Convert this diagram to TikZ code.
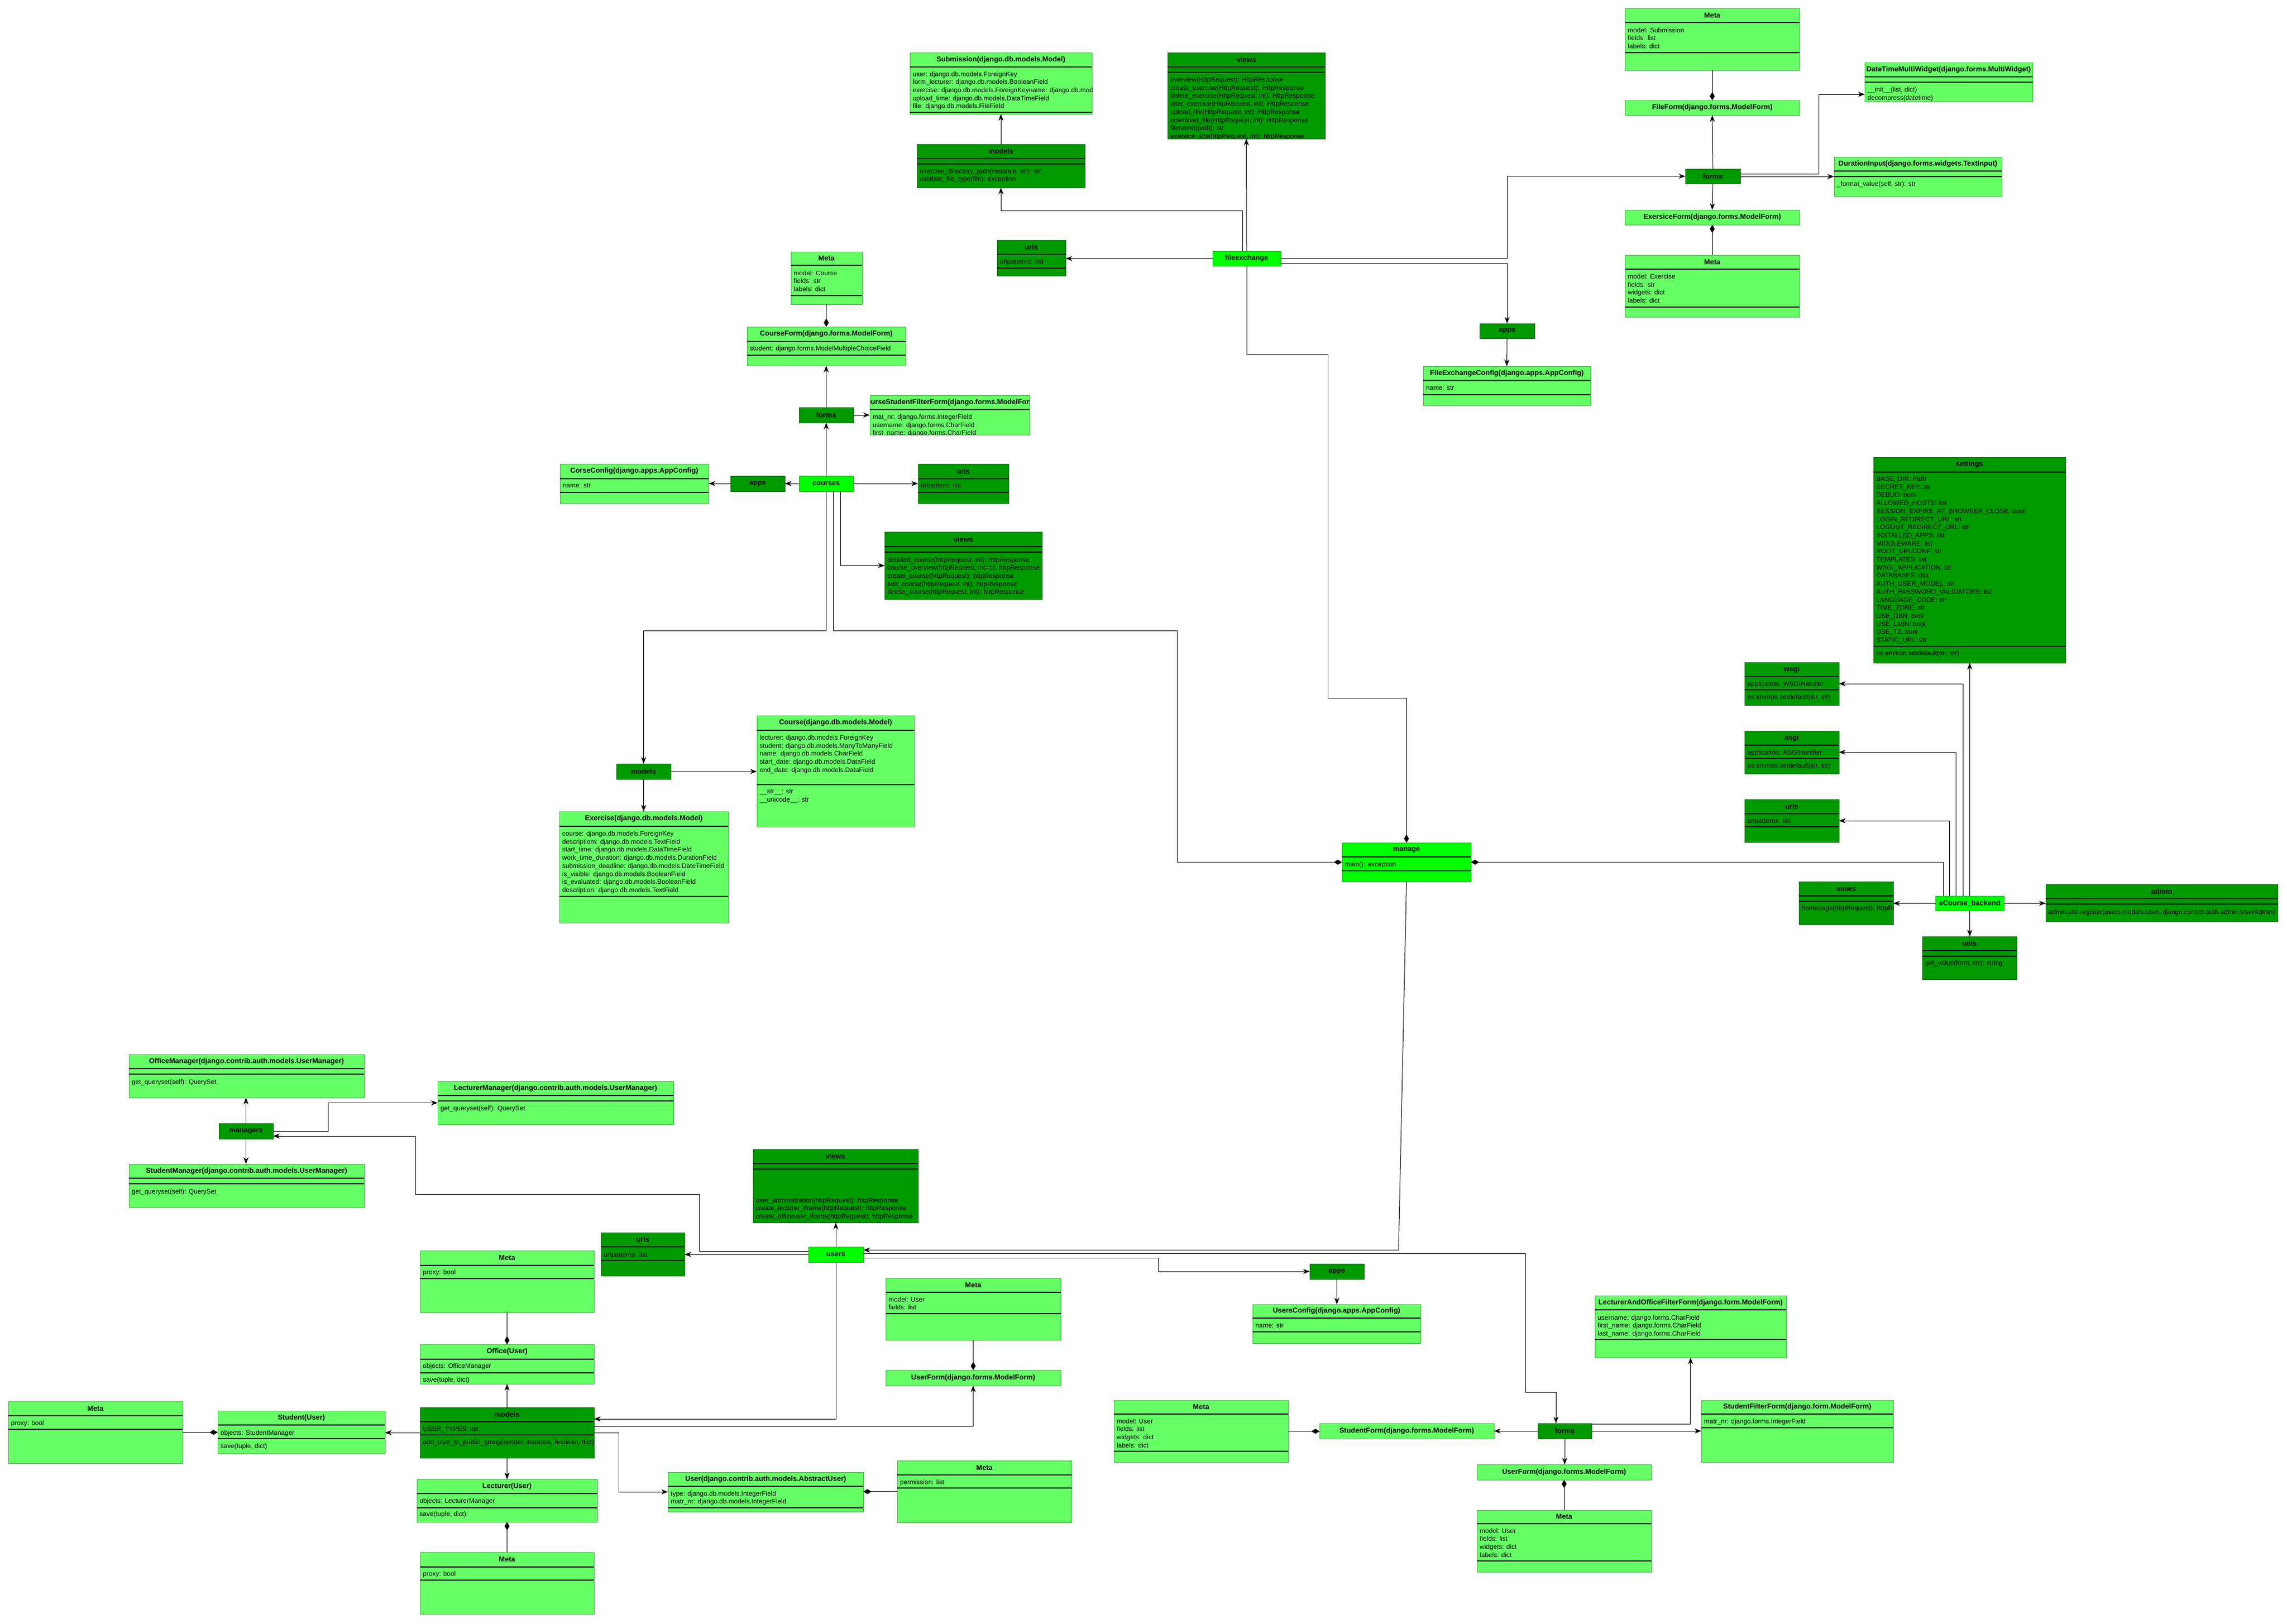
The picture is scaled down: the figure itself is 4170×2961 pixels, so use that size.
\documentclass[tikz,border=0pt]{standalone}
\usepackage{fontspec}
\setmainfont{Liberation Sans}
\usetikzlibrary{arrows.meta,calc}
\definecolor{lg}{HTML}{66FF66}
\definecolor{lgb}{HTML}{44BB44}
\definecolor{dg}{HTML}{009900}
\definecolor{dgb}{HTML}{006600}
\definecolor{bg}{HTML}{00FF00}
\definecolor{bgb}{HTML}{00BB00}
\tikzset{
 light/.style={draw=lgb, fill=lg},
 dark/.style={draw=dgb, fill=dg},
 bright/.style={draw=bgb, fill=bg},
 boxbase/.style={rectangle, inner sep=0pt, outer sep=0pt, line width=1pt, anchor=north west},
 ttl/.style={font=\bfseries\fontsize{13}{15}\selectfont, inner sep=0pt},
 txt/.style={font=\fontsize{12}{14.7}\selectfont, inner sep=0pt, anchor=base west},
 sepline/.style={line width=1.1pt, black},
 con/.style={line width=1pt, black},
 arr/.style={con, -{Stealth[length=12pt,width=9pt,inset=3.5pt]}},
 dia/.style={con, -{Diamond[length=15pt,width=9pt]}},
}
% name, style, x1, y1, x2, y2, header line y, second line y (0 = none), title
\newcommand{\cls}[9]{%
 \node[boxbase,#2,minimum width=#5-#3,minimum height=#6-#4] (#1) at (#3,#4) {};
 \begin{scope}
  \clip (#3,#4) rectangle (#5,#6);
  \node[ttl] at ({(#3+#5)/2},{(#4+#7)/2}) {#9};
 \end{scope}
 \draw[sepline] (#3,#7) -- (#5,#7);
 \ifnum#8>0 \draw[sepline] (#3,#8) -- (#5,#8);\fi
}
% name, style, x1, y1, x2, y2, title
\newcommand{\simple}[7]{%
 \node[boxbase,#2,ttl,minimum width=#5-#3,minimum height=#6-#4] (#1) at (#3,#4) {#7};
}
% x1, x2, clip bottom, first baseline, list
\newcommand{\txtlines}[5]{%
 \begin{scope}
  \clip (#1,#4-20) rectangle (#2,#3);
  \foreach \myline [count=\myi from 0] in {#5} {\node[txt] at (#1+5,#4+14.7*\myi) {\myline};}
 \end{scope}
}
\begin{document}
\begin{tikzpicture}[x=1pt,y=-1pt]
\fill[white] (0,0) rectangle (4170,2961);
\useasboundingbox (0,0) rectangle (4170,2961);

% ================= fileexchange =================
\cls{subm}{light}{1659}{96}{1991}{208}{122}{205}{Submission(django.db.models.Model)}
\txtlines{1659}{1991}{205}{139}{{user: django.db.models.ForeignKey},{form\_lecturer: django.db.models.BooleanField},{exercise: django.db.models.ForeignKeyname: django.db.models.CharField},{upload\_time: django.db.models.DataTimeField},{file: django.db.models.FileField}}
\cls{fxmodels}{dark}{1672}{263}{1978}{342}{289}{299}{models}
\txtlines{1672}{1978}{342}{316}{{exercise\_directory\_path(instance, str): str},{validate\_file\_type(file): exception}}
\cls{fxviews}{dark}{2129}{96}{2416}{253}{122}{132}{views}
\txtlines{2129}{2416}{253}{149.5}{{overview(HttpRequest): HttpResponse},{create\_exercise(HttpRequest): HttpResponse},{delete\_exercise(HttpRequest, int): HttpResponse},{alter\_exercice(HttpRequest, int): HttpResponse},{upload\_file(HttpRequest, int): HttpResponse},{download\_file(HttpRequest, int): HttpResponse},{filename(path): str},{exersice\_site(httpRequest, int): httpResponse}}
\cls{fxurls}{dark}{1818}{438}{1943}{503}{464}{489}{urls}
\txtlines{1818}{1943}{489}{481.5}{{urlpatterns: list}}
\simple{fileexchange}{bright}{2211}{458}{2335}{485}{fileexchange}
\simple{fxforms}{dark}{3073}{308}{3173}{335}{forms}
\cls{meta1}{light}{2963}{15}{3281}{128}{41}{96}{Meta}
\txtlines{2963}{3281}{96}{59}{{model: Submission},{fields: list},{labels: dict}}
\simple{fileform}{light}{2963}{183}{3281}{210}{FileForm(django.forms.ModelForm)}
\cls{dtmw}{light}{3400}{114}{3706}{185}{140}{150}{DateTimeMultiWidget(django.forms.MultiWidget)}
\txtlines{3400}{3706}{185}{167.5}{{\_\_init\_\_(list, dict)},{decompress(datetime)}}
\cls{durinput}{light}{3344}{286}{3650}{358}{312}{322}{DurationInput(django.forms.widgets.TextInput)}
\txtlines{3344}{3650}{358}{339.5}{{\_format\_value(self, str): str}}
\simple{exform}{light}{2963}{383}{3281}{410}{ExersiceForm(django.forms.ModelForm)}
\cls{meta2}{light}{2963}{465}{3281}{578}{491}{560}{Meta}
\txtlines{2963}{3281}{560}{508.5}{{model: Exercise},{fields: str},{widgets: dict},{labels: dict}}
\simple{fxapps}{dark}{2698}{590}{2798}{617}{apps}
\cls{fxconfig}{light}{2595}{668}{2900}{739}{694}{720}{FileExchangeConfig(django.apps.AppConfig)}
\txtlines{2595}{2900}{720}{711.5}{{name: str}}

% ================= courses =================
\cls{cmeta}{light}{1442}{459}{1572}{555}{484}{539}{Meta}
\txtlines{1442}{1572}{539}{502}{{model: Course},{fields: str},{labels: dict}}
\cls{courseform}{light}{1362}{596}{1651}{667}{623}{648}{CourseForm(django.forms.ModelForm)}
\txtlines{1362}{1651}{648}{639.5}{{student: django.forms.ModelMultipleChoiceField}}
\simple{cforms}{dark}{1457}{743}{1556}{771}{forms}
\cls{csff}{light}{1586}{721}{1877}{793}{747}{0}{CourseStudentFilterForm(django.forms.ModelForm)}
\txtlines{1586}{1877}{793}{764.5}{{mat\_nr: django.forms.IntegerField},{username: django.forms.CharField},{first\_name: django.forms.CharField},{last\_name: django.forms.CharField}}
\cls{cconfig}{light}{1021}{846}{1292}{918}{873}{898}{CorseConfig(django.apps.AppConfig)}
\txtlines{1021}{1292}{898}{889.5}{{name: str}}
\simple{capps}{dark}{1332}{868}{1431}{896}{apps}
\simple{courses}{bright}{1457}{868}{1556}{896}{courses}
\cls{curls}{dark}{1674}{846}{1839}{918}{873}{898}{urls}
\txtlines{1674}{1839}{898}{889.5}{{urlpattern: list}}
\cls{cviews}{dark}{1613}{970}{1900}{1093}{997}{1007}{views}
\txtlines{1613}{1900}{1093}{1025}{{detailed\_course(httpRequest, int): httpResponse},{course\_overview(httpRequest, int=1): httpResponse},{create\_course(httpRequest): httpResponse},{edit\_course(httpRequest, int): httpResponse},{delete\_course(httpRequest, int): httpResponse}}
\simple{cmodels}{dark}{1124}{1393}{1223}{1421}{models}
\cls{course}{light}{1380}{1305}{1667}{1508}{1332}{1431}{Course(django.db.models.Model)}
\txtlines{1380}{1667}{1431}{1349.5}{{lecturer: django.db.models.ForeignKey},{student: django.db.models.ManyToManyField},{name: django.db.models.CharField},{start\_date: django.db.models.DataField},{end\_date: django.db.models.DataField}}
\txtlines{1380}{1667}{1508}{1447.5}{{\_\_str\_\_: str},{\_\_unicode\_\_: str}}
\cls{exercise}{light}{1020}{1480}{1328}{1683}{1507}{1635}{Exercise(django.db.models.Model)}
\txtlines{1020}{1328}{1635}{1524.5}{{course: django.db.models.ForeignKey},{descriptiom: django.db.models.TextField},{start\_time: django.db.models.DataTimeField},{work\_time\_duration: django.db.models.DurationField},{submission\_deadline: django.db.models.DateTimeField},{is\_visible: django.db.models.BooleanField},{is\_evaluated: django.db.models.BooleanField},{description: django.db.models.TextField}}

% ================= manage =================
\cls{manage}{bright}{2447}{1537}{2682}{1608}{1563}{1588}{manage}
\txtlines{2447}{2682}{1588}{1580.5}{{main(): exception}}

% ================= eCourse_backend =================
\cls{settings}{dark}{3416}{834}{3766}{1209}{861}{1179}{settings}
\txtlines{3416}{3766}{1179}{877.5}{{BASE\_DIR: Path},{SECRET\_KEY: str},{DEBUG: bool},{ALLOWED\_HOSTS: list},{SESSION\_EXPIRE\_AT\_BROWSER\_CLOSE: bool},{LOGIN\_REDIRECT\_URL: str},{LOGOUT\_REDIRECT\_URL: str},{INSTALLED\_APPS: list},{MIDDLEWARE: list},{ROOT\_URLCONF: str},{TEMPLATES: list},{WSGI\_APPLICATION: str},{DATABASES: dict},{AUTH\_USER\_MODEL: str},{AUTH\_PASSWORD\_VALIDATORS: list},{LANGUAGE\_CODE: str},{TIME\_ZONE: str},{USE\_I18N: bool},{USE\_L10N: bool},{USE\_TZ: bool},{STATIC\_URL: str}}
\txtlines{3416}{3766}{1209}{1195.5}{{os.environ.setdefault(str, str)}}
\cls{wsgi}{dark}{3181}{1208}{3353}{1286}{1234}{1258}{wsgi}
\txtlines{3181}{3353}{1258}{1251}{{application: WSGIHandler}}
\txtlines{3181}{3353}{1286}{1275.5}{{os.environ.setdefault(str, str)}}
\cls{asgi}{dark}{3181}{1333}{3353}{1411}{1359}{1383}{asgi}
\txtlines{3181}{3353}{1383}{1376}{{application: ASGIHandler}}
\txtlines{3181}{3353}{1411}{1400.5}{{os.environ.setdefault(str, str)}}
\cls{eurls}{dark}{3181}{1458}{3353}{1536}{1484}{1508}{urls}
\txtlines{3181}{3353}{1508}{1501}{{urlpatterns: list}}
\cls{eviews}{dark}{3280}{1608}{3452}{1686}{1634}{1644}{views}
\txtlines{3280}{3452}{1686}{1660.5}{{homepage(httpRequest): httpResponse}}
\simple{ecourse}{bright}{3529}{1634}{3654}{1661}{eCourse\_backend}
\cls{admin}{dark}{3730}{1613}{4153}{1681}{1639}{1649}{admin}
\txtlines{3730}{4153}{1681}{1667}{{admin.site.register(users.models.User, django.contrib.auth.admin.UserAdmin)}}
\cls{utils}{dark}{3505}{1708}{3677}{1786}{1734}{1744}{utils}
\txtlines{3505}{3677}{1786}{1760.5}{{get\_value(form, str): string}}

% ================= users =================
\cls{offmgr}{light}{235}{1923}{664}{2002}{1949}{1959}{OfficeManager(django.contrib.auth.models.UserManager)}
\txtlines{235}{664}{2002}{1977.5}{{get\_queryset(self): QuerySet}}
\cls{lecmgr}{light}{798}{1972}{1228}{2051}{1998}{2008}{LecturerManager(django.contrib.auth.models.UserManager)}
\txtlines{798}{1228}{2051}{2025}{{get\_queryset(self): QuerySet}}
\simple{managers}{dark}{399}{2049}{498}{2077}{managers}
\cls{stumgr}{light}{235}{2123}{664}{2202}{2149}{2159}{StudentManager(django.contrib.auth.models.UserManager)}
\txtlines{235}{664}{2202}{2177.5}{{get\_queryset(self): QuerySet}}
\cls{uviews}{dark}{1373}{2096}{1674}{2230}{2122}{2132}{views}
\txtlines{1373}{1674}{2230}{2193}{{user\_administration(httpRequest): httpResponse},{create\_lecturer\_iframe(httpRequest): httpResponse},{create\_officeuser\_iframe(httpRequest): httpResponse},{create\_student\_iframe(httpRequest): httpResponse}}
\cls{uurls}{dark}{1096}{2248}{1248}{2327}{2274}{2299}{urls}
\txtlines{1096}{1248}{2299}{2292.5}{{urlpatterns: list}}
\simple{users}{bright}{1474}{2274}{1574}{2302}{users}
\cls{ometa}{light}{766}{2281}{1083}{2394}{2308}{2332}{Meta}
\txtlines{766}{1083}{2332}{2324.5}{{proxy: bool}}
\cls{office}{light}{766}{2452}{1083}{2524}{2479}{2504}{Office(User)}
\txtlines{766}{1083}{2504}{2495}{{objects: OfficeManager}}
\txtlines{766}{1083}{2524}{2520}{{save(tuple, dict)}}
\cls{smeta}{light}{15}{2556}{333}{2669}{2582}{2607}{Meta}
\txtlines{15}{333}{2607}{2599.5}{{proxy: bool}}
\cls{student}{light}{397}{2573}{702}{2651}{2599}{2624}{Student(User)}
\txtlines{397}{702}{2624}{2617.5}{{objects: StudentManager}}
\txtlines{397}{702}{2651}{2641}{{save(tuple, dict)}}
\cls{umodels}{dark}{766}{2567}{1083}{2659}{2593}{2617}{models}
\txtlines{766}{1083}{2617}{2610.5}{{USER\_TYPES: list}}
\txtlines{766}{1083}{2659}{2634.5}{{add\_user\_to\_public\_group(sender, instance, boolean, dict)}}
\cls{lecturer}{light}{760}{2698}{1089}{2776}{2724}{2750}{Lecturer(User)}
\txtlines{760}{1089}{2750}{2741.5}{{objects: LecturerManager}}
\txtlines{760}{1089}{2776}{2765.5}{{save(tuple, dict):}}
\cls{lmeta}{light}{766}{2831}{1083}{2944}{2858}{2882}{Meta}
\txtlines{766}{1083}{2882}{2874}{{proxy: bool}}
\cls{user}{light}{1218}{2685}{1574}{2757}{2711}{2750}{User(django.contrib.auth.models.AbstractUser)}
\txtlines{1218}{1574}{2750}{2728}{{type: django.db.models.IntegerField},{matr\_nr: django.db.models.IntegerField}}
\cls{pmeta}{light}{1636}{2664}{1954}{2777}{2690}{2714}{Meta}
\txtlines{1636}{1954}{2714}{2707}{{permission: list}}
\cls{ufmeta}{light}{1615}{2331}{1934}{2444}{2357}{2396}{Meta}
\txtlines{1615}{1934}{2396}{2374}{{model: User},{fields: list}}
\simple{userform1}{light}{1615}{2499}{1934}{2527}{UserForm(django.forms.ModelForm)}
\simple{uapps}{dark}{2388}{2305}{2487}{2333}{apps}
\cls{usersconfig}{light}{2284}{2379}{2590}{2450}{2404}{2429}{UsersConfig(django.apps.AppConfig)}
\txtlines{2284}{2590}{2429}{2421}{{name: str}}
\simple{uforms}{dark}{2804}{2596}{2902}{2624}{forms}
\cls{laoff}{light}{2908}{2363}{3257}{2476}{2389}{2443}{LecturerAndOfficeFilterForm(django.form.ModelForm)}
\txtlines{2908}{3257}{2443}{2407}{{username: django.forms.CharField},{first\_name: django.forms.CharField},{last\_name: django.forms.CharField}}
\cls{sff}{light}{3102}{2554}{3452}{2667}{2579}{2604}{StudentFilterForm(django.form.ModelForm)}
\txtlines{3102}{3452}{2604}{2596}{{matr\_nr: django.forms.IntegerField}}
\simple{studentform}{light}{2406}{2596}{2724}{2624}{StudentForm(django.forms.ModelForm)}
\cls{sfmeta}{light}{2031}{2554}{2349}{2667}{2579}{2647}{Meta}
\txtlines{2031}{2349}{2647}{2596}{{model: User},{fields: list},{widgets: dict},{labels: dict}}
\simple{userform2}{light}{2693}{2671}{3011}{2699}{UserForm(django.forms.ModelForm)}
\cls{uf2meta}{light}{2693}{2754}{3011}{2867}{2779}{2847}{Meta}
\txtlines{2693}{3011}{2847}{2796}{{model: User},{fields: list},{widgets: dict},{labels: dict}}

% ================= connectors: fileexchange =================
\draw[arr] (fileexchange.west) -- (fileexchange.west -| fxurls.east);
\draw[arr] (fileexchange.north) -- (fxviews.south);
\draw[arr] ([xshift=-8pt]fileexchange.north) -- ++(0,-74) -| (fxmodels.south);
\draw[arr] (fxmodels.north) -- (subm.south);
\draw[arr] (fileexchange.east) -- (fileexchange.east -| fxapps.north) |- (fxforms.west);
\draw[arr] ($(fileexchange.east)+(0,9)$) -| (fxapps.north);
\draw[arr] (fxapps.south) -- (fxconfig.north);
\draw[arr] (fxforms.north) -- (fileform.south);
\draw[arr] (fxforms.south) -- (exform.north);
\draw[dia] (meta1.south) -- (fileform.north);
\draw[dia] (meta2.north) -- (exform.south);
\draw[arr] ($(fxforms.east)+(0,-4.5)$) -- ++(143,0) |- ($(dtmw.west)+(0,22.5)$);
\draw[arr] (fxforms.east |- durinput.west) -- (durinput.west);
\draw[dia] (fileexchange.south) -- ++(0,161.5) -| (2421,1273) -| (manage.north);

% ================= connectors: courses =================
\draw[arr] (courses.north) -- (cforms.south);
\draw[arr] (cforms.north) -- (courseform.south);
\draw[dia] (cmeta.south) -- (courseform.north);
\draw[arr] (cforms.east) -- (cforms.east -| csff.west);
\draw[arr] (courses.west) -- (capps.east);
\draw[arr] (capps.west) -- (capps.west -| cconfig.east);
\draw[arr] (courses.east) -- (courses.east -| curls.west);
\draw[arr] ($(courses.south)+(25.5,0)$) |- (cviews.west);
\draw[arr] (courses.south) -- ++(0,254) -| (cmodels.north);
\draw[arr] (cmodels.east) -- (cmodels.east -| course.west);
\draw[arr] (cmodels.south) -- (cmodels.south |- exercise.north);
\draw[dia] ($(courses.south)+(12.5,0)$) -- ++(0,254) -| (2146,1572.5) -- (manage.west);

% ================= connectors: eCourse_backend =================
\draw[arr] (ecourse.north) -- (ecourse.north |- settings.south);
\draw[arr] ($(ecourse.north)+(-12.5,0)$) |- (wsgi.east);
\draw[arr] ($(ecourse.north)+(-25,0)$) |- (asgi.east);
\draw[arr] ($(ecourse.north)+(-37.5,0)$) |- (eurls.east);
\draw[dia] ($(ecourse.north)+(-48.5,0)$) |- (manage.east);
\draw[arr] (ecourse.west) -- (ecourse.west -| eviews.east);
\draw[arr] (ecourse.east) -- (ecourse.east -| admin.west);
\draw[arr] (ecourse.south) -- (ecourse.south |- utils.north);

% ================= connectors: manage -> users =================
\draw[arr] (manage.south) -- (2550,2280) -- ($(users.east)+(0,-8)$);

% ================= connectors: users =================
\draw[arr] (users.north) -- (users.north |- uviews.south);
\draw[arr] (users.west) -- (users.west -| uurls.east);
\draw[arr] ($(users.west)+(0,-6)$) -- (1275,2282) |- (757,2178) |- ($(managers.east)+(0,9)$);
\draw[arr] (managers.north) -- (managers.north |- offmgr.south);
\draw[arr] (managers.south) -- (managers.south |- stumgr.north);
\draw[arr] (managers.east) -- ++(100,0) |- (lecmgr.west);
\draw[arr] (users.south) |- ($(umodels.east)+(0,-25)$);
\draw[arr] (umodels.north) -- (umodels.north |- office.south);
\draw[dia] (ometa.south) -- (office.north);
\draw[arr] (umodels.west) -- (umodels.west -| student.east);
\draw[dia] (smeta.east) -- (smeta.east -| student.west);
\draw[arr] (umodels.south) -- (umodels.south |- lecturer.north);
\draw[dia] (lmeta.north) -- (lecturer.south);
\draw[arr] ($(umodels.east)+(0,-12)$) -| (userform1.south);
\draw[dia] (ufmeta.south) -- (userform1.north);
\draw[arr] (umodels.east) -- ++(45,0) |- (user.west);
\draw[dia] (pmeta.west) -- (pmeta.west -| user.east);
\draw[arr] ($(users.east)+(0,6)$) -- (2112,2294) |- (uapps.west);
\draw[arr] (uapps.south) -- (uapps.south |- usersconfig.north);
\draw[arr] ($(users.east)+(0,-2)$) -| (2781,2539) -| ($(uforms.north)+(-16,0)$);
\draw[arr] ($(uforms.north east)+(0,1)$) -| (laoff.south);
\draw[arr] (uforms.east) -- (uforms.east -| sff.west);
\draw[arr] (uforms.west) -- (uforms.west -| studentform.east);
\draw[dia] (sfmeta.east) -- (sfmeta.east -| studentform.west);
\draw[arr] (uforms.south) -- (uforms.south |- userform2.north);
\draw[dia] (uf2meta.north) -- (userform2.south);
\end{tikzpicture}
\end{document}
